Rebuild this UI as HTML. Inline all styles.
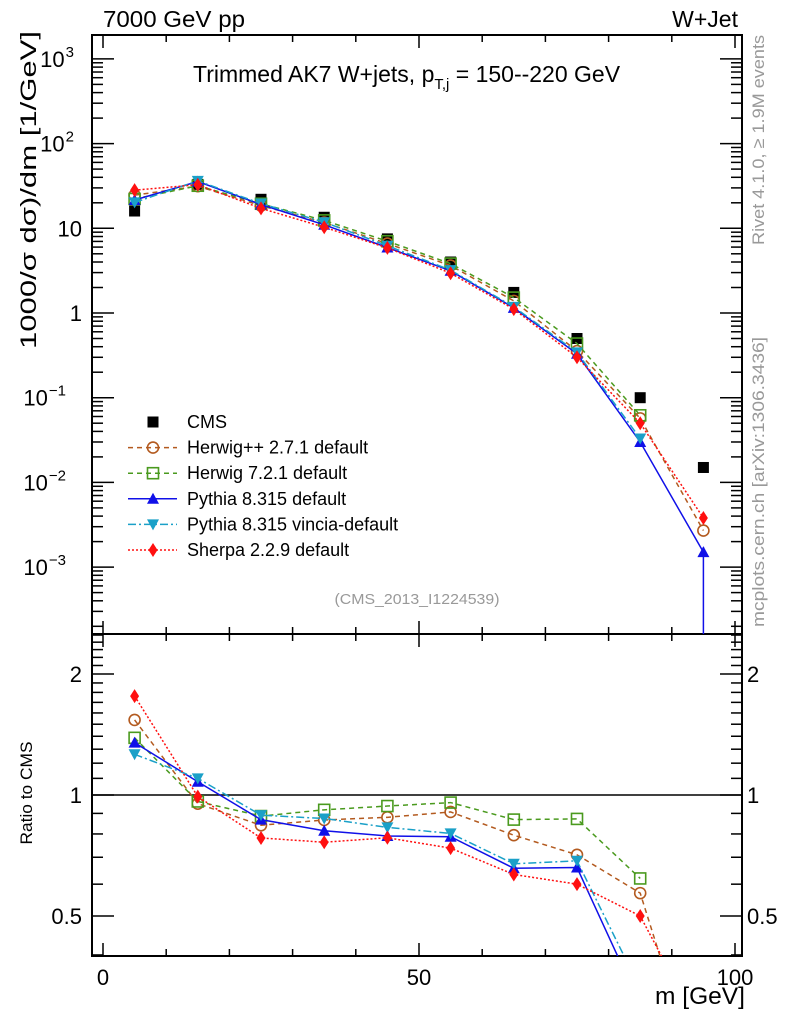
<!DOCTYPE html>
<html><head><meta charset="utf-8"><style>
html,body{margin:0;padding:0;background:#fff;overflow:hidden;width:786px;height:1024px}
svg{display:block}
svg text{font-family:"Liberation Sans",sans-serif}
</style></head><body>
<svg id="chart" width="786" height="1024" xmlns="http://www.w3.org/2000/svg">
<defs>
<clipPath id="cm"><rect x="92" y="35" width="650" height="599"/></clipPath>
<clipPath id="cr"><rect x="92" y="634" width="650" height="322"/></clipPath>
</defs>
<g id="g"></g>
</svg>
<script>
const xs=[5,15,25,35,45,55,65,75,85,95];
const cms=[16,33,22,13.5,7.5,4.0,1.75,0.5,0.1,0.015];
const herwigpp=[24.6,31.4,18.5,11.7,6.6,3.63,1.39,0.355,0.057,0.0027];
const herwig7=[22.2,31.8,19.5,12.4,7.04,3.83,1.52,0.436,0.062,null];
const pythia=[21.6,35.6,19.1,11.0,5.93,3.15,1.15,0.33,0.03,0.0015];
const vincia=[20.2,36.3,19.6,11.8,6.23,3.21,1.18,0.343,0.033,null];
const sherpa=[28.2,32.7,17.2,10.3,5.87,2.95,1.11,0.30,0.05,0.0038];
const xTicks=[0,50,100];
const yTicks=[-3,-2,-1,0,1,2,3];
const rTicks=[0.5,1,2];

const NS='http://www.w3.org/2000/svg';
const G=document.getElementById('g');
const L=92,R=742,T=35,MB=634,RB=956;
const X=v=>103+(v)*6.32;
const Y=v=>313-Math.log10(v)*84.7;
const RY=v=>795-Math.log2(v)*121;
function mk(tag,at,parent){const e=document.createElementNS(NS,tag);for(const k in at)e.setAttribute(k,at[k]);(parent||G).appendChild(e);return e;}
function line(x1,y1,x2,y2,p){return mk('line',{x1,y1,x2,y2,stroke:'#000','stroke-width':1.5},p);}
function txt(s,x,y,size,anchor,fill,p,len){const a={x,y,'font-size':size,'text-anchor':anchor||'start',fill:fill||'#000'};if(len){a.textLength=len;a.lengthAdjust='spacingAndGlyphs';}const t=mk('text',a,p);t.textContent=s;return t;}

const f1=mk('rect',{x:L,y:T,width:R-L,height:MB-T,fill:'none',stroke:'#000','stroke-width':2});

const f2=mk('rect',{x:L,y:MB,width:R-L,height:RB-MB,fill:'none',stroke:'#000','stroke-width':2});


const xt=mk('g',{});
for(let v=0;v<=100;v+=10){const maj=xTicks.includes(v);const l=maj?13:7;const x=X(v);
 line(x,MB,x,MB-l,xt);line(x,T,x,T+l,xt);line(x,RB,x,RB-l,xt);line(x,MB,x,MB+l,xt);}
xTicks.forEach(v=>{const t=txt(String(v),X(v),985,22,'middle',null,xt);});

const yt=mk('g',{});
for(let d=-4;d<=3;d++){for(let m=1;m<10;m++){const v=m*Math.pow(10,d);const y=Y(v);if(y<T||y>MB)continue;const l=m==1?22:11;line(L,y,L+l,y,yt);line(R,y,R-l,y,yt);}}
yTicks.forEach(d=>{const y=Y(Math.pow(10,d));let t;
 if(d==0)t=txt('1',82,y+8,22,'end',null,yt);
 else if(d==1)t=txt('10',82,y+8,22,'end',null,yt);
 else{t=txt('10',74,y+8,22,'end',null,yt);const s=mk('tspan',{dx:1,dy:-10,'font-size':15},t);s.textContent=d==2?'2':d==3?'3':'\u2212'+(-d);
  if(d<0)t.setAttribute('x',66);}
 });

const rt=mk('g',{});
for(let i=4;i<=25;i++){const v=i/10;const y=RY(v);if(y<MB||y>RB)continue;const l=rTicks.includes(v)?22:11;line(L,y,L+l,y,rt);line(R,y,R-l,y,rt);}
rTicks.forEach(v=>{const y=RY(v)+8;const a=txt(String(v),82,y,22,'end',null,rt);
 const b=txt(String(v),747,y,22,'start',null,rt);});
const one=line(L,RY(1),R,RY(1));

const series=[
 {name:'herwigpp',v:herwigpp,c:'#b35a1f',d:'5,4',m:'circle'},
 {name:'herwig7',v:herwig7,c:'#4a9a1e',d:'5,4',m:'square'},
 {name:'pythia',v:pythia,c:'#1010e8',d:'',m:'tri'},
 {name:'vincia',v:vincia,c:'#1aa0c8',d:'8,3,2,3',m:'tridown'},
 {name:'sherpa',v:sherpa,c:'#ff1010',d:'2,2',m:'diamond'}];
function marker(type,x,y,c,p){
 if(type=='circle')return mk('circle',{cx:x,cy:y,r:5.5,fill:'none',stroke:c,'stroke-width':1.6},p);
 if(type=='square')return mk('rect',{x:x-5.5,y:y-5.5,width:11,height:11,fill:'none',stroke:c,'stroke-width':1.6},p);
 if(type=='fsq')return mk('rect',{x:x-5.5,y:y-5.5,width:11,height:11,fill:c},p);
 if(type=='tri')return mk('path',{d:`M${x},${y-6}L${x+6},${y+5}L${x-6},${y+5}Z`,fill:c},p);
 if(type=='tridown')return mk('path',{d:`M${x},${y+6}L${x+6},${y-5}L${x-6},${y-5}Z`,fill:c},p);
 if(type=='diamond')return mk('path',{d:`M${x},${y-7}L${x+4.5},${y}L${x},${y+7}L${x-4.5},${y}Z`,fill:c},p);
}
const mainG=mk('g',{'clip-path':'url(#cm)'});
const ratG=mk('g',{'clip-path':'url(#cr)'});
const cg=mk('g',{},mainG);
xs.forEach((x,i)=>{const m=marker('fsq',X(x),Y(cms[i]),'#000',cg);});
series.forEach(s=>{
 const g1=mk('g',{},mainG);
 const g2=mk('g',{},ratG);
 const p1=[],p2=[];
 xs.forEach((x,i)=>{if(s.v[i]==null)return;p1.push(X(x)+','+Y(s.v[i]));p2.push(X(x)+','+RY(s.v[i]/cms[i]));});
 const l1=mk('polyline',{points:p1.join(' '),fill:'none',stroke:s.c,'stroke-width':1.5,'stroke-dasharray':s.d},g1);
 
 const l2=mk('polyline',{points:p2.join(' '),fill:'none',stroke:s.c,'stroke-width':1.5,'stroke-dasharray':s.d},g2);
 
 xs.forEach((x,i)=>{if(s.v[i]==null)return;
  const a=marker(s.m,X(x),Y(s.v[i]),s.c,g1);
  const b=marker(s.m,X(x),RY(s.v[i]/cms[i]),s.c,g2);});
});
const eb=mk('line',{x1:X(95),y1:Y(pythia[9])-5,x2:X(95),y2:MB,stroke:'#1010e8','stroke-width':1.5},mainG);


const lg=mk('g',{});
const ents=[{t:'CMS',m:'fsq',c:'#000',d:null},{t:'Herwig++ 2.7.1 default',m:'circle',c:'#b35a1f',d:'5,4'},{t:'Herwig 7.2.1 default',m:'square',c:'#4a9a1e',d:'5,4'},{t:'Pythia 8.315 default',m:'tri',c:'#1010e8',d:''},{t:'Pythia 8.315 vincia-default',m:'tridown',c:'#1aa0c8',d:'8,3,2,3'},{t:'Sherpa 2.2.9 default',m:'diamond',c:'#ff1010',d:'2,2'}];
ents.forEach((e,i)=>{const y=422+i*25.6;const g=mk('g',{},lg);
 if(e.d!==null)mk('line',{x1:128,y1:y,x2:177,y2:y,stroke:e.c,'stroke-width':1.5,'stroke-dasharray':e.d},g);
 marker(e.m,153,y,e.c,g);txt(e.t,187,y+6,18,'start',null,g);});

const labels=[
 ['7000 GeV pp',103,27,23,'start','#000','energy-label',142],
 ['W+Jet',738,27,23,'end','#000','process-label',0],
 ['(CMS_2013_I1224539)',417,604,15,'middle','#999','analysis-id',165],
 ['m [GeV]',745,1004,24,'end','#000','x-axis-title',90]];
labels.forEach(a=>{const t=txt(a[0],a[1],a[2],a[3],a[4],a[5],null,a[7]||null);});
const tt=txt('Trimmed AK7 W+jets, p',193,82,23,'start');
const sub=mk('tspan',{dy:7,'font-size':15},tt);sub.textContent='T,j';
const rest=mk('tspan',{dy:-7},tt);rest.textContent=' = 150--220 GeV';
function vtext(s,x,y,size,fill,name,len){const a={x:0,y:0,'font-size':size,'text-anchor':'middle',fill,transform:`translate(${x},${y}) rotate(-90)`};if(len){a.textLength=len;a.lengthAdjust='spacingAndGlyphs';}const t=mk('text',a);t.textContent=s;}
vtext('1000/\u03c3    d\u03c3)/dm [1/GeV]',36,190,22,'#000','y-axis-title',318);
vtext('Ratio to CMS',32,793,17,'#000','ratio-axis-title',103);
vtext('Rivet 4.1.0, \u2265 1.9M events',764,140,17,'#999','rivet-label',210);
vtext('mcplots.cern.ch [arXiv:1306.3436]',764,482,17,'#999','mcplots-label',290);
</script>
</body></html>
